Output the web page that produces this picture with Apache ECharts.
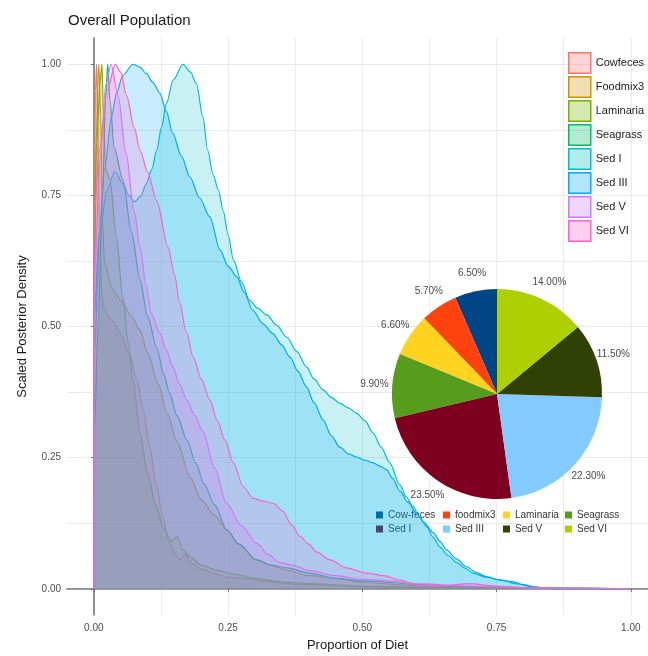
<!DOCTYPE html>
<html>
<head>
<meta charset="utf-8">
<script src="https://cdn.jsdelivr.net/npm/echarts@6/dist/echarts.min.js"></script>
<style>
html,body{margin:0;padding:0;background:#fff;}
#c{width:648px;height:656px;}
</style>
</head>
<body>
<div id="c"></div>
<script>
// ---------- DATA ----------
const seriesNames = ['Cowfeces','Foodmix3','Laminaria','Seagrass','Sed I','Sed III','Sed V','Sed VI'];

const cowfeces = [[0,0],[0.001,0.7],[0.003,0.95],[0.005,1.0],[0.007,0.9],[0.01,0.7],[0.015,0.56],[0.02,0.53],[0.035,0.51],[0.048,0.49],[0.065,0.45],[0.08,0.4],[0.092,0.34],[0.104,0.27],[0.116,0.2],[0.128,0.137],[0.14,0.09],[0.15,0.07],[0.16,0.055],[0.17,0.065],[0.18,0.05],[0.2,0.038],[0.222,0.03],[0.25,0.022],[0.28,0.02],[0.32,0.014],[0.36,0.01],[0.4,0.008],[0.5,0.004],[0.6,0.002],[0.8,0.001],[1,0]];

const foodmix3 = [[0,0],[0.001,0.55],[0.004,0.85],[0.009,1.0],[0.013,0.9],[0.016,0.7],[0.02,0.62],[0.035,0.57],[0.05,0.55],[0.07,0.52],[0.086,0.493],[0.1,0.45],[0.12,0.39],[0.136,0.335],[0.155,0.28],[0.179,0.213],[0.2,0.17],[0.225,0.14],[0.248,0.112],[0.27,0.085],[0.303,0.055],[0.33,0.045],[0.36,0.035],[0.4,0.025],[0.45,0.02],[0.5,0.012],[0.6,0.006],[0.7,0.003],[0.85,0.001],[1,0]];

const laminaria = [[0,0],[0.001,0.6],[0.005,0.85],[0.012,0.97],[0.015,1.0],[0.018,0.9],[0.022,0.8],[0.03,0.78],[0.042,0.67],[0.054,0.556],[0.064,0.47],[0.073,0.398],[0.086,0.297],[0.1,0.22],[0.115,0.16],[0.13,0.115],[0.145,0.09],[0.155,0.1],[0.165,0.075],[0.18,0.06],[0.2,0.045],[0.23,0.035],[0.26,0.028],[0.3,0.02],[0.35,0.013],[0.4,0.01],[0.5,0.005],[0.6,0.003],[0.8,0.001],[1,0]];

const seagrass = [[0,0],[0.001,0.3],[0.008,0.5],[0.016,0.75],[0.022,0.94],[0.026,1.0],[0.03,0.93],[0.038,0.84],[0.054,0.78],[0.07,0.68],[0.086,0.589],[0.1,0.52],[0.117,0.46],[0.13,0.41],[0.141,0.373],[0.155,0.33],[0.173,0.284],[0.19,0.24],[0.205,0.2],[0.225,0.16],[0.248,0.112],[0.27,0.085],[0.303,0.055],[0.33,0.045],[0.36,0.04],[0.4,0.03],[0.45,0.02],[0.5,0.015],[0.55,0.012],[0.6,0.008],[0.7,0.004],[0.8,0.002],[1,0]];

const sedI = [[0,0],[0.001,0.45],[0.011,0.678],[0.024,0.76],[0.039,0.795],[0.054,0.773],[0.065,0.75],[0.076,0.738],[0.087,0.748],[0.098,0.773],[0.108,0.8],[0.117,0.836],[0.126,0.88],[0.135,0.925],[0.148,0.97],[0.166,1.0],[0.18,0.985],[0.191,0.963],[0.203,0.9],[0.212,0.836],[0.222,0.79],[0.232,0.76],[0.241,0.72],[0.25,0.675],[0.26,0.627],[0.275,0.585],[0.29,0.55],[0.305,0.535],[0.322,0.522],[0.34,0.503],[0.359,0.48],[0.378,0.452],[0.396,0.423],[0.41,0.4],[0.427,0.379],[0.442,0.365],[0.458,0.354],[0.474,0.345],[0.489,0.335],[0.505,0.32],[0.52,0.297],[0.535,0.27],[0.551,0.24],[0.57,0.198],[0.582,0.175],[0.594,0.157],[0.607,0.137],[0.62,0.118],[0.632,0.098],[0.644,0.08],[0.66,0.063],[0.676,0.05],[0.69,0.04],[0.706,0.03],[0.73,0.022],[0.756,0.017],[0.785,0.01],[0.818,0.004],[0.84,0.001],[0.86,0],[1,0]];

const sedIII = [[0,0],[0.001,0.52],[0.01,0.68],[0.02,0.8],[0.033,0.9],[0.042,0.944],[0.054,0.979],[0.073,1.0],[0.085,0.995],[0.098,0.982],[0.11,0.965],[0.123,0.945],[0.135,0.91],[0.147,0.868],[0.163,0.825],[0.179,0.785],[0.197,0.745],[0.216,0.709],[0.235,0.646],[0.25,0.615],[0.266,0.595],[0.28,0.565],[0.296,0.531],[0.315,0.505],[0.333,0.487],[0.35,0.465],[0.365,0.442],[0.38,0.415],[0.396,0.385],[0.41,0.355],[0.427,0.322],[0.442,0.292],[0.458,0.27],[0.475,0.257],[0.489,0.251],[0.505,0.245],[0.52,0.24],[0.535,0.233],[0.545,0.227],[0.557,0.21],[0.57,0.186],[0.585,0.165],[0.6,0.145],[0.615,0.126],[0.632,0.107],[0.645,0.09],[0.657,0.074],[0.675,0.057],[0.694,0.042],[0.712,0.031],[0.731,0.023],[0.755,0.017],[0.781,0.013],[0.8,0.008],[0.818,0.004],[0.84,0.001],[0.86,0],[1,0]];

const sedV = [[0,0],[0.001,0.6],[0.012,0.82],[0.022,0.96],[0.032,1.0],[0.045,0.94],[0.06,0.83],[0.075,0.72],[0.086,0.652],[0.097,0.58],[0.107,0.525],[0.123,0.487],[0.135,0.455],[0.147,0.423],[0.16,0.39],[0.173,0.36],[0.188,0.33],[0.203,0.30],[0.225,0.23],[0.247,0.163],[0.275,0.12],[0.303,0.087],[0.325,0.065],[0.346,0.05],[0.37,0.045],[0.4,0.035],[0.45,0.025],[0.5,0.018],[0.55,0.015],[0.6,0.01],[0.7,0.005],[0.8,0.002],[1,0]];

const sedVI = [[0,0],[0.001,0.72],[0.011,0.84],[0.025,0.95],[0.04,1.0],[0.05,0.985],[0.061,0.94],[0.075,0.88],[0.086,0.836],[0.1,0.795],[0.117,0.74],[0.138,0.652],[0.15,0.6],[0.16,0.545],[0.172,0.49],[0.185,0.442],[0.2,0.4],[0.216,0.36],[0.23,0.32],[0.244,0.284],[0.26,0.24],[0.278,0.195],[0.296,0.173],[0.315,0.167],[0.334,0.163],[0.352,0.148],[0.368,0.122],[0.384,0.1],[0.4,0.085],[0.415,0.07],[0.44,0.055],[0.47,0.04],[0.508,0.03],[0.54,0.025],[0.57,0.017],[0.6,0.007],[0.65,0.006],[0.7,0.01],[0.75,0.005],[0.8,0.002],[0.9,0.001],[1,0]];

const densityData = [cowfeces, foodmix3, laminaria, seagrass, sedI, sedIII, sedV, sedVI];

const xTicks = [0, 0.25, 0.5, 0.75, 1];
const yTicks = [0, 0.25, 0.5, 0.75, 1];
const gridBreaks = [0, 0.125, 0.25, 0.375, 0.5, 0.625, 0.75, 0.875, 1];

const pieNames = ['Cow-feces','foodmix3','Laminaria','Seagrass','Sed I','Sed III','Sed V','Sed VI'];
const pieValues = [6.5, 5.7, 6.6, 9.9, 23.5, 22.3, 11.5, 14.0];

// ---------- STYLE ----------
const lineColors = ['#F8766D','#CD9600','#7CAE00','#00BE67','#00BFC4','#00A9FF','#C77CFF','#FF61CC'];
const pieColors = ['#004586','#ff420e','#ffd320','#579d1c','#7e0021','#83caff','#314004','#aecf00'];
const FONT = '"Liberation Sans", Arial, sans-serif';
function alpha(hex, a){
  const r=parseInt(hex.slice(1,3),16), g=parseInt(hex.slice(3,5),16), b=parseInt(hex.slice(5,7),16);
  return 'rgba('+r+','+g+','+b+','+a+')';
}
const FILL_A = 0.3;
const PIE_CENTER = [497, 394];
const PIE_R = 105;

const densitySeries = seriesNames.map((n,i)=>({
  name: n, type: 'line', xAxisIndex: 0, yAxisIndex: 0,
  data: densityData[i], showSymbol: false, symbol: 'none',
  smooth: 0.3, smoothMonotone: 'x',
  lineStyle: {color: lineColors[i], width: 1.2},
  itemStyle: {color: lineColors[i]},
  areaStyle: {color: alpha(lineColors[i], FILL_A)},
  z: 2 + i, silent: true
}));

const pieSeries = {
  type: 'pie', center: PIE_CENTER, radius: PIE_R,
  startAngle: 90, clockwise: false, avoidLabelOverlap: false,
  data: pieNames.map((n,i)=>({name:n, value:pieValues[i], itemStyle:{color:pieColors[i]}})),
  label: {show:false}, labelLine: {show:false},
  z: 20, silent: true
};
// transparent companion ring used only to place the percentage labels just outside the pie
const pieLabelSeries = {
  type: 'pie', center: PIE_CENTER, radius: [0, 2*PIE_R + 30],
  startAngle: 90, clockwise: false, avoidLabelOverlap: false,
  data: pieNames.map((n,i)=>({name:n, value:pieValues[i]})),
  itemStyle: {color: 'rgba(0,0,0,0)', borderWidth: 0},
  emphasis: {disabled: true},
  label: {show:true, position:'inside', formatter: p => p.value.toFixed(2)+'%',
          fontFamily: FONT, fontSize: 10, color: '#4a4a4a'},
  labelLine: {show:false},
  z: 21, silent: true, legendHoverLink: false
};

const pieLegendCols = [[0,4],[1,5],[2,6],[3,7]];
const pieLegendLeft = [371, 438, 498, 560];
const pieLegends = pieLegendCols.map((col,k)=>({
  orient:'vertical', left: pieLegendLeft[k], top: 505, itemWidth: 7, itemHeight: 7, itemGap: 4,
  itemTextGap: 4, icon:'rect', selectedMode:false,
  textStyle:{fontFamily: FONT, fontSize: 10, color:'#333'},
  data: col.map(j=>({name: pieNames[j], icon:'rect', itemStyle:{color: pieColors[j], borderWidth:0}}))
}));

const mainLegend = {
  orient:'vertical', left: 568, top: 52, padding: 0, itemWidth: 22, itemHeight: 20.5, itemGap: 2,
  itemTextGap: 5, icon:'rect', selectedMode:false,
  textStyle:{fontFamily: FONT, fontSize: 11, color:'#1a1a1a'},
  data: seriesNames.map((n,i)=>({name:n, icon:'rect',
     itemStyle:{color: alpha(lineColors[i], FILL_A), borderColor: lineColors[i], borderWidth: 1.5}}))
};

const option = {
  animation: false,
  backgroundColor: '#ffffff',
  title: {text:'Overall Population', left: 63, top: 8,
          textStyle:{fontFamily: FONT, fontSize: 15, fontWeight:'normal', color:'#1a1a1a'}},
  legend: [mainLegend].concat(pieLegends),
  grid: {left: 67, top: 38, right: 0, height: 577, containLabel: false, outerBoundsMode: 'none'},
  xAxis: [
    {type:'value', position:'bottom', min:-0.05, max:1.032,
     name:'Proportion of Diet', nameLocation:'middle', nameGap: 24,
     nameTextStyle:{fontFamily: FONT, fontSize: 13, color:'#1a1a1a'},
     axisLine:{show:true, lineStyle:{color:'#6e6e6e', width:1.5}},
     axisTick:{show:true, customValues: xTicks, length:3, lineStyle:{color:'#6e6e6e'}},
     axisLabel:{customValues: xTicks, formatter: v => v.toFixed(2), fontFamily: FONT, fontSize: 10, color:'#4d4d4d', margin: 8},
     splitLine:{show:false}},
    {type:'value', position:'top', min:-0.05, max:1.032,
     axisLine:{show:true, lineStyle:{color:'#a0a0a0', width:1}},
     axisTick:{show:false, customValues: gridBreaks},
     axisLabel:{show:false, customValues: gridBreaks},
     splitLine:{show:true, lineStyle:{color:'#ebebeb', width:1}}}
  ],
  yAxis: [
    {type:'value', position:'left', min:-0.05, max:1.05,
     name:'Scaled Posterior Density', nameLocation:'middle', nameGap: 38,
     nameTextStyle:{fontFamily: FONT, fontSize: 13, color:'#1a1a1a'},
     axisLine:{show:true, lineStyle:{color:'#6e6e6e', width:1.5}},
     axisTick:{show:true, customValues: yTicks, length:3, lineStyle:{color:'#6e6e6e'}},
     axisLabel:{customValues: yTicks, formatter: v => v.toFixed(2), fontFamily: FONT, fontSize: 10, color:'#4d4d4d', margin: 6},
     splitLine:{show:false}},
    {type:'value', position:'right', min:-0.05, max:1.05,
     axisLine:{show:false},
     axisTick:{show:false, customValues: gridBreaks},
     axisLabel:{show:false, customValues: gridBreaks},
     splitLine:{show:true, lineStyle:{color:'#ebebeb', width:1}}}
  ],
  series: densitySeries.concat([pieSeries, pieLabelSeries])
};

const chart = echarts.init(document.getElementById('c'), null, {renderer:'canvas'});
chart.setOption(option);
</script>
</body>
</html>
